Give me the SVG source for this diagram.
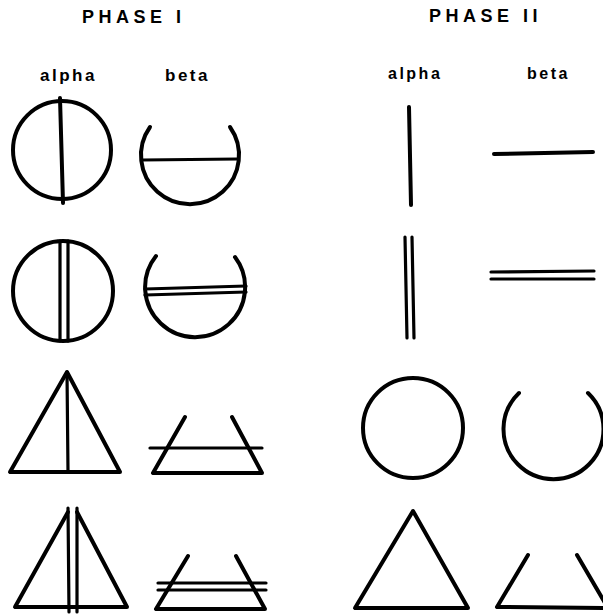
<svg xmlns="http://www.w3.org/2000/svg" width="603" height="615" viewBox="0 0 603 615">
<style>
.s{fill:none;stroke:#000;stroke-width:4;stroke-linecap:round;stroke-linejoin:round}
.t{fill:none;stroke:#000;stroke-width:3.2;stroke-linecap:round}
.h{font-family:"Liberation Sans",Arial,sans-serif;font-weight:bold;font-size:18px;letter-spacing:4.5px;fill:#000}
.l{font-family:"Liberation Sans",Arial,sans-serif;font-weight:bold;font-size:17px;letter-spacing:2.5px;fill:#000}
</style>
<rect width="603" height="615" fill="#fff"/>
<g id="headers">
<text class="h" x="82" y="23">PHASE I</text>
<text class="h" x="429" y="22">PHASE II</text>
<text class="l" x="40" y="81">alpha</text>
<text class="l" x="165" y="81">beta</text>
<text class="l" x="388" y="79" style="font-size:16px">alpha</text>
<text class="l" x="527" y="79" style="font-size:16px">beta</text>
</g>
<g id="p1-alpha-1"><circle class="s" cx="62" cy="150" r="49"/><path class="s" d="M60,98 L63,203"/></g>
<g id="p1-beta-1"><path class="s" d="M150,127 A49,49 0 1 0 230,127"/><path class="t" d="M142,160 L238,159"/></g>
<g id="p1-alpha-2"><circle class="s" cx="63" cy="291" r="50"/><path class="t" d="M60,241 L60,341 M68,241 L68,341"/></g>
<g id="p1-beta-2"><path class="s" d="M156,256 A50,50 0 1 0 235,257"/><path class="t" d="M145,289 L246,286 M145,295 L246,292"/></g>
<g id="p1-alpha-3"><path class="s" d="M67,372 L10,472 L120,472 Z"/><path class="t" d="M67,372 L68,472"/></g>
<g id="p1-beta-3"><path class="s" d="M185,417 L153,473 L262,473 L232,417"/><path class="t" d="M150,448 L262,448"/></g>
<g id="p1-alpha-4"><path class="s" d="M68,512 L15,607 L127,607 L77,512"/><path class="t" d="M68,508 L69,612 M77,508 L77,612"/></g>
<g id="p1-beta-4"><path class="s" d="M188,556 L156,609 L265,609 L236,556"/><path class="t" d="M158,583 L266,583 M158,590 L266,590"/></g>
<g id="p2-alpha-1"><path class="s" d="M409,107 L411,205"/></g>
<g id="p2-beta-1"><path class="s" d="M494,154 L593,152"/></g>
<g id="p2-alpha-2"><path class="t" d="M405,237 L407,338 M412,237 L414,338"/></g>
<g id="p2-beta-2"><path class="t" d="M491,272 L594,271 M491,279 L594,279"/></g>
<g id="p2-alpha-3"><circle class="s" cx="413" cy="428" r="50"/></g>
<g id="p2-beta-3"><path class="s" d="M519,393 A50,50 0 1 0 588,393"/></g>
<g id="p2-alpha-4"><path class="s" d="M413,511 L355,608 L468,608 Z"/></g>
<g id="p2-beta-4"><path class="s" d="M528,555 L497,607 L608,608 L577,555"/></g>
<g id="connectors"/>
</svg>
